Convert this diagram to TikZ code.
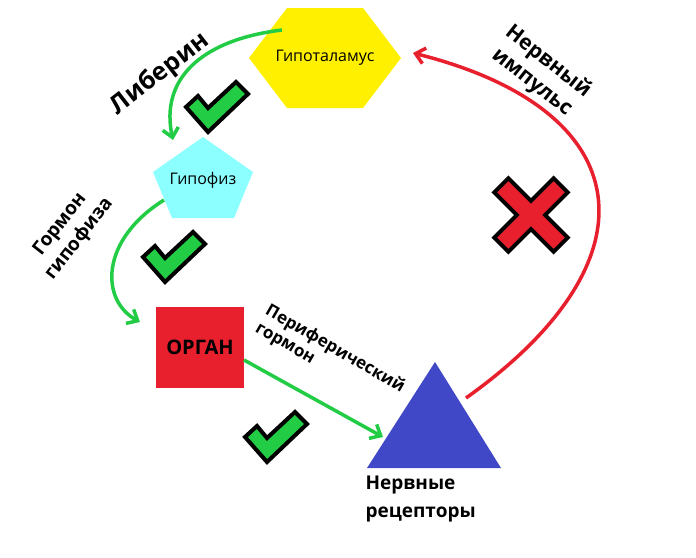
\documentclass[tikz,border=0pt]{standalone}
\usepackage{fontspec}
\setmainfont{Open Sans}
\usetikzlibrary{arrows.meta}
\definecolor{gr}{HTML}{22CC44}
\definecolor{rd}{HTML}{E8202E}
\definecolor{yl}{HTML}{FFF000}
\definecolor{cy}{HTML}{8CFFFF}
\definecolor{bl}{HTML}{4048C8}
\tikzset{
 chk/.style={fill=gr,draw=black,line width=4pt,line join=miter},
 garr/.style={draw=gr,line width=3.5pt,-{Straight Barb[length=9pt,width=16pt]}},
 rarr/.style={draw=rd,line width=3.5pt,-{Straight Barb[length=9pt,width=16pt]}},
 lbl/.style={font=\bfseries\fontsize{19}{24}\selectfont,align=left}
}
\newcommand{\chkmark}[1]{\draw[chk,shift={#1}] (0,25)--(12,14)--(22,26)--(50,0)--(62,12)--(22,50)--cycle;}
\begin{document}
\begin{tikzpicture}[x=1pt,y=-1pt]
\useasboundingbox (0,0) rectangle (696,557);
% hexagon
\fill[yl] (249,58)--(287,8)--(363,8)--(401,58)--(363,108)--(287,108)--cycle;
\node[font=\fontsize{16}{19}\selectfont] (hyp) at (325,58) {Гипоталамус};
% pentagon
\fill[cy] (203,137)--(253,172)--(234,218)--(172,218)--(153,172)--cycle;
\node[font=\fontsize{16}{19}\selectfont] (pit) at (203,180) {Гипофиз};
% organ
\node[fill=rd,minimum width=88pt,minimum height=81pt,font=\bfseries\fontsize{20}{24}\selectfont] (org) at (200,347) {ОРГАН};
% triangle
\fill[bl] (435,362)--(501,468)--(367,468)--cycle;
\node[lbl,anchor=north west,font=\bfseries\fontsize{19}{28}\selectfont] (rec) at (362,472) {Нервные\\рецепторы};
% checks
\chkmark{(186,82)}
\chkmark{(143,232)}
\chkmark{(245,412)}
% X
\begin{scope}[shift={(531,215)},rotate=45]
\draw[fill=rd,draw=black,line width=4pt] (-10,-42)--(10,-42)--(10,-10)--(42,-10)--(42,10)--(10,10)--(10,42)--(-10,42)--(-10,10)--(-42,10)--(-42,-10)--(-10,-10)--cycle;
\end{scope}
% arrows
\coordinate (a1) at (282,30);
\coordinate (a2) at (173,140);
\draw[garr] (a1) .. controls (200,40) and (160,80) .. (a2);
\coordinate (b1) at (164,200);
\coordinate (b2) at (140,322);
\draw[garr] (b1) .. controls (100,240) and (100,300) .. (b2);
\coordinate (c1) at (244,360);
\coordinate (c2) at (383,437);
\draw[garr] (c1) -- (c2);
\coordinate (d1) at (466,398);
\coordinate (d2) at (413,53);
\draw[rarr] (d1) .. controls (660,260) and (640,110) .. (d2);
% labels
\node[lbl,font=\bfseries\fontsize{25}{28}\selectfont,rotate=38] at (160,74) {Либерин};
\node[lbl,rotate=52,align=center] at (70,232) {Гормон\\гипофиза};
\node[lbl,rotate=-30,align=left,font=\bfseries\fontsize{17}{20}\selectfont] at (330,358) {Периферический\\гормон};
\node[lbl,rotate=-38,align=center,font=\bfseries\fontsize{21}{26}\selectfont] at (540,72) {Нервный\\импульс};
\end{tikzpicture}
\end{document}
